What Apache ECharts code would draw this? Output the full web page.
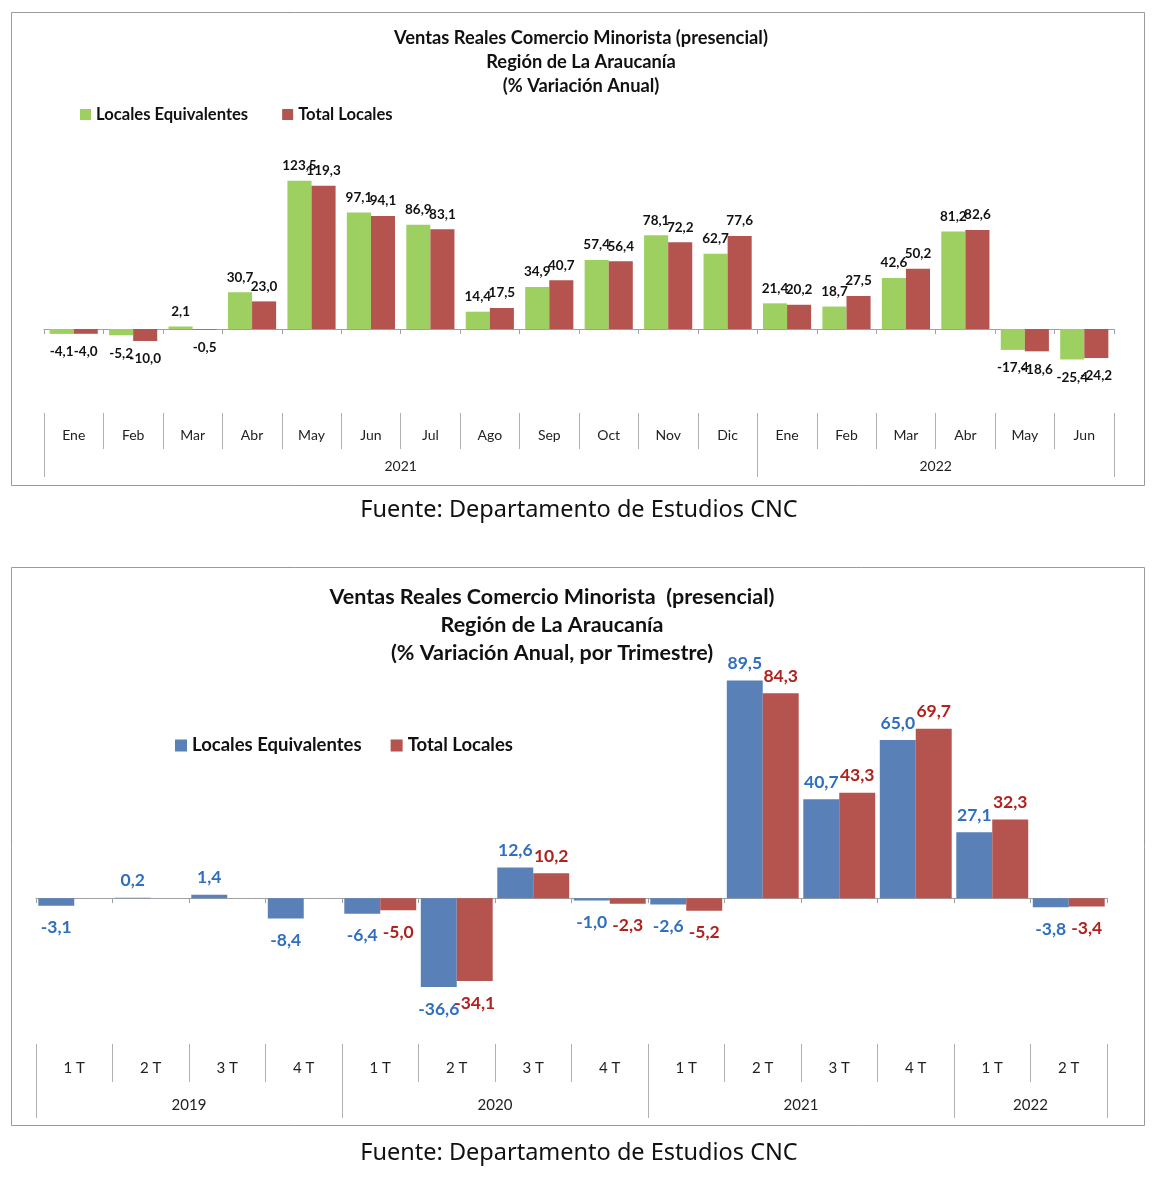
<!DOCTYPE html>
<html>
<head>
<meta charset="utf-8">
<script src="https://cdn.jsdelivr.net/npm/echarts@6/dist/echarts.min.js"></script>
<style>
html,body{margin:0;padding:0;background:#fff;}
#chart{width:1160px;height:1180px;}
</style>
</head>
<body>
<div id="chart"></div>
<script>
// ---------- Data: monthly chart ----------
const months = ['Ene','Feb','Mar','Abr','May','Jun','Jul','Ago','Sep','Oct','Nov','Dic','Ene','Feb','Mar','Abr','May','Jun'];
const monthYears = ['2021','2022'];
const monthYearCounts = [12, 6];
const monthlyEquiv = [-4.1, -5.2, 2.1, 30.7, 123.5, 97.1, 86.9, 14.4, 34.9, 57.4, 78.1, 62.7, 21.4, 18.7, 42.6, 81.2, -17.4, -25.4];
const monthlyTotal = [-4.0, -10.0, -0.5, 23.0, 119.3, 94.1, 83.1, 17.5, 40.7, 56.4, 72.2, 77.6, 20.2, 27.5, 50.2, 82.6, -18.6, -24.2];

// ---------- Data: quarterly chart ----------
const quarters = ['1 T','2 T','3 T','4 T','1 T','2 T','3 T','4 T','1 T','2 T','3 T','4 T','1 T','2 T'];
const quarterYears = ['2019','2020','2021','2022'];
const quarterYearCounts = [4, 4, 4, 2];
const quarterlyEquiv = [-3.1, 0.2, 1.4, -8.4, -6.4, -36.6, 12.6, -1.0, -2.6, 89.5, 40.7, 65.0, 27.1, -3.8];
const quarterlyTotal = [null, null, null, null, -5.0, -34.1, 10.2, -2.3, -5.2, 84.3, 43.3, 69.7, 32.3, -3.4];

const seriesNames = ['Locales Equivalentes', 'Total Locales'];
const titleTop = 'Ventas Reales Comercio Minorista (presencial)\nRegión de La Araucanía\n(% Variación Anual)';
const titleBottom = 'Ventas Reales Comercio Minorista  (presencial)\nRegión de La Araucanía\n(% Variación Anual, por Trimestre)';
const sourceText = 'Fuente: Departamento de Estudios CNC';

const FONT = 'Lato';
const fmt = v => v.toFixed(1).replace('.', ',');

function groupInfo(counts) {
  const bounds = [0], centers = [];
  let acc = 0;
  counts.forEach(c => { centers.push(acc + c / 2); acc += c; bounds.push(acc); });
  return { bounds, centers };
}
const mInfo = groupInfo(monthYearCounts);
const qInfo = groupInfo(quarterYearCounts);

function barData(values, posDist, negDist, color) {
  return values.map(v => {
    if (v === null) return { value: null };
    const item = { value: v, label: { position: v < 0 ? 'bottom' : 'top', distance: v < 0 ? negDist : posDist } };
    if (color) item.label.color = color;
    return item;
  });
}

const chart = echarts.init(document.getElementById('chart'), null, { renderer: 'canvas' });

const option = {
  backgroundColor: '#ffffff',
  animation: false,
  title: [
    { text: titleTop, left: 576, top: 21, textAlign: 'center',
      textStyle: { fontFamily: FONT, fontSize: 18.3, fontWeight: 'bold', color: '#111', lineHeight: 24 } },
    { text: sourceText, left: 574, top: 493, textAlign: 'center',
      textStyle: { fontFamily: 'Noto Sans', fontSize: 23.5, fontWeight: 'normal', color: '#111' } },
    { text: titleBottom, left: 547, top: 578, textAlign: 'center',
      textStyle: { fontFamily: FONT, fontSize: 21.5, fontWeight: 'bold', color: '#111', lineHeight: 28 } },
    { text: sourceText, left: 574, top: 1136, textAlign: 'center',
      textStyle: { fontFamily: 'Noto Sans', fontSize: 23.5, fontWeight: 'normal', color: '#111' } }
  ],
  legend: [
    { left: 75, top: 101, icon: 'rect', itemWidth: 11, itemHeight: 11, itemGap: 34,
      selectedMode: false,
      textStyle: { fontFamily: FONT, fontSize: 16.6, fontWeight: 'bold', color: '#111' },
      data: [ { name: seriesNames[0], itemStyle: { color: '#9ECF61' } },
              { name: seriesNames[1], itemStyle: { color: '#B5534F' } } ] },
    { left: 170, top: 731, icon: 'rect', itemWidth: 12, itemHeight: 12, itemGap: 29,
      selectedMode: false,
      textStyle: { fontFamily: FONT, fontSize: 18.5, fontWeight: 'bold', color: '#111' },
      data: [ { name: seriesNames[0], itemStyle: { color: '#5A80B8' } },
              { name: seriesNames[1], itemStyle: { color: '#B5534F' } } ] }
  ],
  graphic: [
    { type: 'rect', silent: true, z: -1, shape: { x: 11.5, y: 12.5, width: 1133, height: 473 },
      style: { fill: 'none', stroke: '#9a9a9a', lineWidth: 1 } },
    { type: 'rect', silent: true, z: -1, shape: { x: 11.5, y: 567.5, width: 1133, height: 558 },
      style: { fill: 'none', stroke: '#9a9a9a', lineWidth: 1 } }
  ],
  grid: [
    { left: 44, top: 173, width: 1070, height: 240, containLabel: false },
    { left: 36, top: 655, width: 1071, height: 389, containLabel: false }
  ],
  xAxis: [
    // monthly: zero line
    { type: 'category', gridIndex: 0, data: months, position: 'bottom',
      axisLine: { onZero: true, lineStyle: { color: '#a0a0a0', width: 1 } },
      axisTick: { show: true, length: 5, interval: 0, lineStyle: { color: '#a0a0a0' } },
      axisLabel: { show: false }, splitLine: { show: false } },
    // monthly: month labels
    { type: 'category', gridIndex: 0, data: months, position: 'bottom',
      axisLine: { show: false, onZero: false },
      axisTick: { show: true, length: 36, interval: 0, lineStyle: { color: '#b0b0b0' } },
      axisLabel: { show: true, interval: 0, margin: 15, fontFamily: FONT, fontSize: 14, color: '#222' },
      splitLine: { show: false } },
    // monthly: year labels
    { type: 'value', gridIndex: 0, min: 0, max: months.length, position: 'bottom',
      axisLine: { show: false, onZero: false },
      axisTick: { show: true, length: 64, customValues: mInfo.bounds, lineStyle: { color: '#b0b0b0' } },
      axisLabel: { show: true, margin: 46, customValues: mInfo.centers, fontFamily: FONT, fontSize: 14, color: '#222',
        formatter: v => monthYears[mInfo.centers.indexOf(v)] || '' },
      splitLine: { show: false } },
    // quarterly: zero line
    { type: 'category', gridIndex: 1, data: quarters, position: 'bottom',
      axisLine: { onZero: true, lineStyle: { color: '#a0a0a0', width: 1 } },
      axisTick: { show: true, length: 5, interval: 0, lineStyle: { color: '#a0a0a0' } },
      axisLabel: { show: false }, splitLine: { show: false } },
    // quarterly: quarter labels
    { type: 'category', gridIndex: 1, data: quarters, position: 'bottom',
      axisLine: { show: false, onZero: false },
      axisTick: { show: true, length: 38, interval: 0, lineStyle: { color: '#b0b0b0' } },
      axisLabel: { show: true, interval: 0, margin: 17, fontFamily: FONT, fontSize: 15, color: '#222' },
      splitLine: { show: false } },
    // quarterly: year labels
    { type: 'value', gridIndex: 1, min: 0, max: quarters.length, position: 'bottom',
      axisLine: { show: false, onZero: false },
      axisTick: { show: true, length: 74, customValues: qInfo.bounds, lineStyle: { color: '#b0b0b0' } },
      axisLabel: { show: true, margin: 54, customValues: qInfo.centers, fontFamily: FONT, fontSize: 15, color: '#222',
        formatter: v => quarterYears[qInfo.centers.indexOf(v)] || '' },
      splitLine: { show: false } }
  ],
  yAxis: [
    { type: 'value', gridIndex: 0, min: -70, max: 130, interval: 10, show: false, splitLine: { show: false } },
    { type: 'value', gridIndex: 1, min: -60, max: 100, interval: 10, show: false, splitLine: { show: false } }
  ],
  series: [
    { name: seriesNames[0], type: 'bar', xAxisIndex: 0, yAxisIndex: 0,
      barGap: '0%', barCategoryGap: '19%',
      itemStyle: { color: '#9ECF61' },
      label: { show: true, formatter: p => fmt(p.value), fontFamily: FONT, fontSize: 13.5, fontWeight: 'bold', color: '#111' },
      data: barData(monthlyEquiv, 8, 11) },
    { name: seriesNames[1], type: 'bar', xAxisIndex: 0, yAxisIndex: 0,
      barGap: '0%', barCategoryGap: '19%',
      itemStyle: { color: '#B5534F' },
      label: { show: true, formatter: p => fmt(p.value), fontFamily: FONT, fontSize: 13.5, fontWeight: 'bold', color: '#111' },
      data: barData(monthlyTotal, 8, 11) },
    { name: seriesNames[0], type: 'bar', xAxisIndex: 3, yAxisIndex: 1,
      barGap: '0%', barCategoryGap: '6%',
      itemStyle: { color: '#5A80B8' },
      label: { show: true, formatter: p => fmt(p.value), fontFamily: FONT, fontSize: 17.5, fontWeight: 'bold', color: '#2F6FC0' },
      data: barData(quarterlyEquiv, 8, 13) },
    { name: seriesNames[1], type: 'bar', xAxisIndex: 3, yAxisIndex: 1,
      barGap: '0%', barCategoryGap: '6%',
      itemStyle: { color: '#B5534F' },
      label: { show: true, formatter: p => (p.value === null || p.value === undefined) ? '' : fmt(p.value), fontFamily: FONT, fontSize: 17.5, fontWeight: 'bold', color: '#B0221E' },
      data: barData(quarterlyTotal, 8, 13) }
  ]
};

chart.setOption(option);
</script>
</body>
</html>
